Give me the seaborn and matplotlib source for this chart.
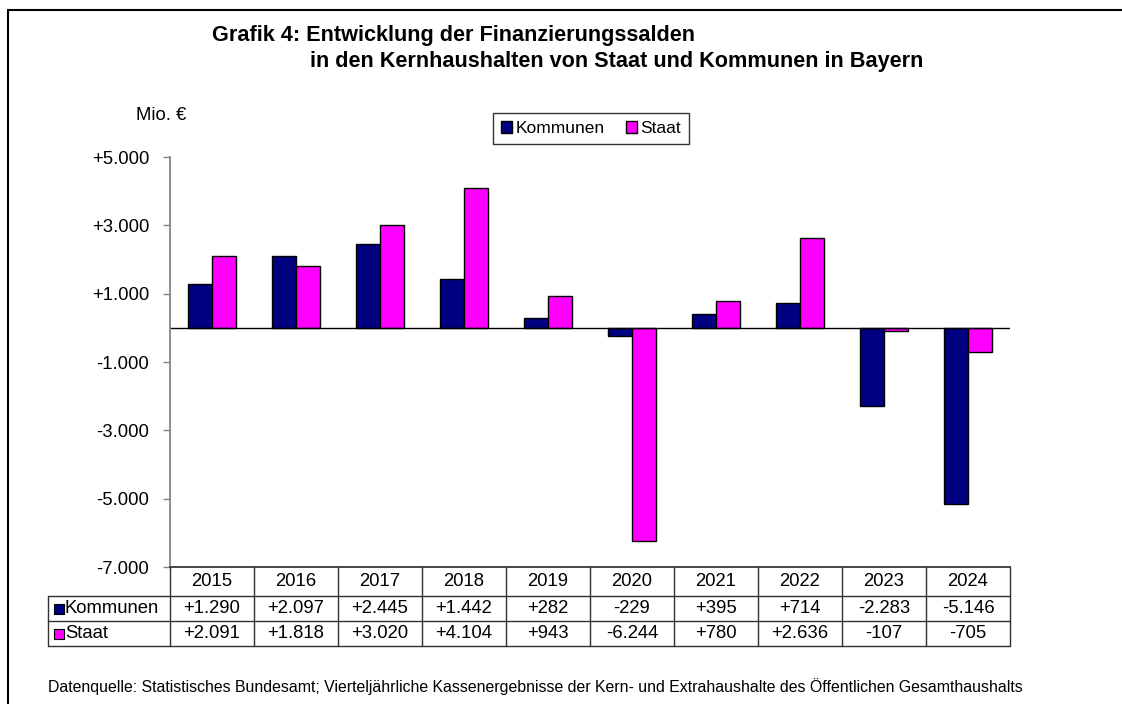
import pandas as pd
import numpy as np
import matplotlib
matplotlib.use('Agg')
import matplotlib.pyplot as plt
import seaborn as sns
from matplotlib.transforms import blended_transform_factory
from matplotlib.lines import Line2D
from matplotlib.patches import Patch

# Data (Mio. EUR)
years = ['2015', '2016', '2017', '2018', '2019', '2020', '2021', '2022', '2023', '2024']
kommunen = [1290, 2097, 2445, 1442, 282, -229, 395, 714, -2283, -5146]
staat = [2091, 1818, 3020, 4104, 943, -6244, 780, 2636, -107, -705]
series_names = ['Kommunen', 'Staat']
colors = {'Kommunen': '#000080', 'Staat': '#FF00FF'}
y_ticks = [5000, 3000, 1000, -1000, -3000, -5000, -7000]
y_tick_labels = ['+5.000', '+3.000', '+1.000', '-1.000', '-3.000', '-5.000', '-7.000']

df = pd.DataFrame({
    'Jahr': years * 2,
    'Reihe': ['Kommunen'] * len(years) + ['Staat'] * len(years),
    'Wert': kommunen + staat,
})

sns.set_theme(style='white')
plt.rcParams['font.family'] = ['Liberation Sans', 'DejaVu Sans']
plt.rcParams['text.color'] = 'black'
plt.rcParams['ytick.labelcolor'] = 'black'

W, H = 1122, 704
fig = plt.figure(figsize=(W / 100, H / 100), dpi=100)
ax = fig.add_axes([170 / W, 1 - 567 / H, 840 / W, 410 / H])

sns.barplot(data=df, x='Jahr', y='Wert', hue='Reihe', palette=colors,
            width=0.58, saturation=1, edgecolor='black', linewidth=1, ax=ax)
ax.get_legend().remove()

ax.set_xlim(-0.5, len(years) - 0.5)
ax.set_ylim(-7000, 5000)
ax.axhline(0, color='black', lw=1)
ax.set_xlabel('')
ax.set_ylabel('')
ax.set_xticks([])
ax.set_yticks(y_ticks, y_tick_labels)
ax.tick_params(axis='y', left=True, direction='out', length=5, width=1,
               color='#808080', labelcolor='black', labelsize=13.3, pad=10)
for s in ['top', 'right']:
    ax.spines[s].set_visible(False)
ax.spines['left'].set_color('#808080')
ax.spines['bottom'].set_color('#303030')

# data table below the axis
trans = blended_transform_factory(ax.transData, ax.transAxes)
y1 = (567 - 596) / 410
y2 = (567 - 621) / 410
y3 = (567 - 646) / 410
x_left = -0.5 + (48 - 170) / 84
x_right = len(years) - 0.5
lc = '#303030'
for yy in [y1, y2, y3]:
    ax.plot([x_left, x_right], [yy, yy], color=lc, lw=1, transform=trans, clip_on=False)
for i in range(len(years) + 1):
    ax.plot([i - 0.5, i - 0.5], [0, y3], color=lc, lw=1, transform=trans, clip_on=False)
ax.plot([x_left, x_left], [y1, y3], color=lc, lw=1, transform=trans, clip_on=False)

def fmt(v):
    return f'{v:+,}'.replace(',', '.')

for i, yr in enumerate(years):
    ax.text(i, y1 / 2, yr, ha='center', va='center', fontsize=13.3, transform=trans)
    ax.text(i, (y1 + y2) / 2, fmt(kommunen[i]), ha='center', va='center', fontsize=13.3, transform=trans)
    ax.text(i, (y2 + y3) / 2, fmt(staat[i]), ha='center', va='center', fontsize=13.3, transform=trans)

for name, yc in zip(series_names, [(y1 + y2) / 2, (y2 + y3) / 2]):
    ax.plot([-0.5 + (59 - 170) / 84], [yc], marker='s', ms=7, mfc=colors[name], mec='black',
            mew=0.8, transform=trans, clip_on=False)
    ax.text(-0.5 + (65 - 170) / 84, yc, name, ha='left', va='center', fontsize=13.3, transform=trans)

# legend
handles = [Patch(facecolor=colors[n], edgecolor='black', label=n) for n in series_names]
leg = fig.legend(handles=handles, loc='center', bbox_to_anchor=(591 / W, 1 - 128.5 / H), ncol=2,
                 frameon=True, fancybox=False, edgecolor='black', fontsize=12.5,
                 handlelength=0.65, handleheight=0.65, handletextpad=0.2, columnspacing=1.2,
                 borderpad=0.45)
leg.get_frame().set_linewidth(1)

# titles and labels
fig.text(212 / W, 1 - 36 / H, 'Grafik 4: Entwicklung der Finanzierungssalden',
         fontsize=15.6, fontweight='bold', ha='left', va='center')
fig.text(310 / W, 1 - 61 / H, 'in den Kernhaushalten von Staat und Kommunen in Bayern',
         fontsize=15.6, fontweight='bold', ha='left', va='center')
fig.text(136 / W, 1 - 116 / H, 'Mio. €', fontsize=13.3, ha='left', va='center')
fig.text(48 / W, 1 - 687 / H,
         'Datenquelle: Statistisches Bundesamt; Vierteljährliche Kassenergebnisse der Kern- und '
         'Extrahaushalte des Öffentlichen Gesamthaushalts',
         fontsize=11.4, ha='left', va='center')

# frame lines (left and top)
fig.add_artist(Line2D([8 / W, 8 / W], [0, 1 - 10 / H], transform=fig.transFigure, color='black', lw=1.5))
fig.add_artist(Line2D([8 / W, 1], [1 - 10 / H, 1 - 10 / H], transform=fig.transFigure, color='black', lw=1.5))

fig.savefig('out.png', dpi=100)
